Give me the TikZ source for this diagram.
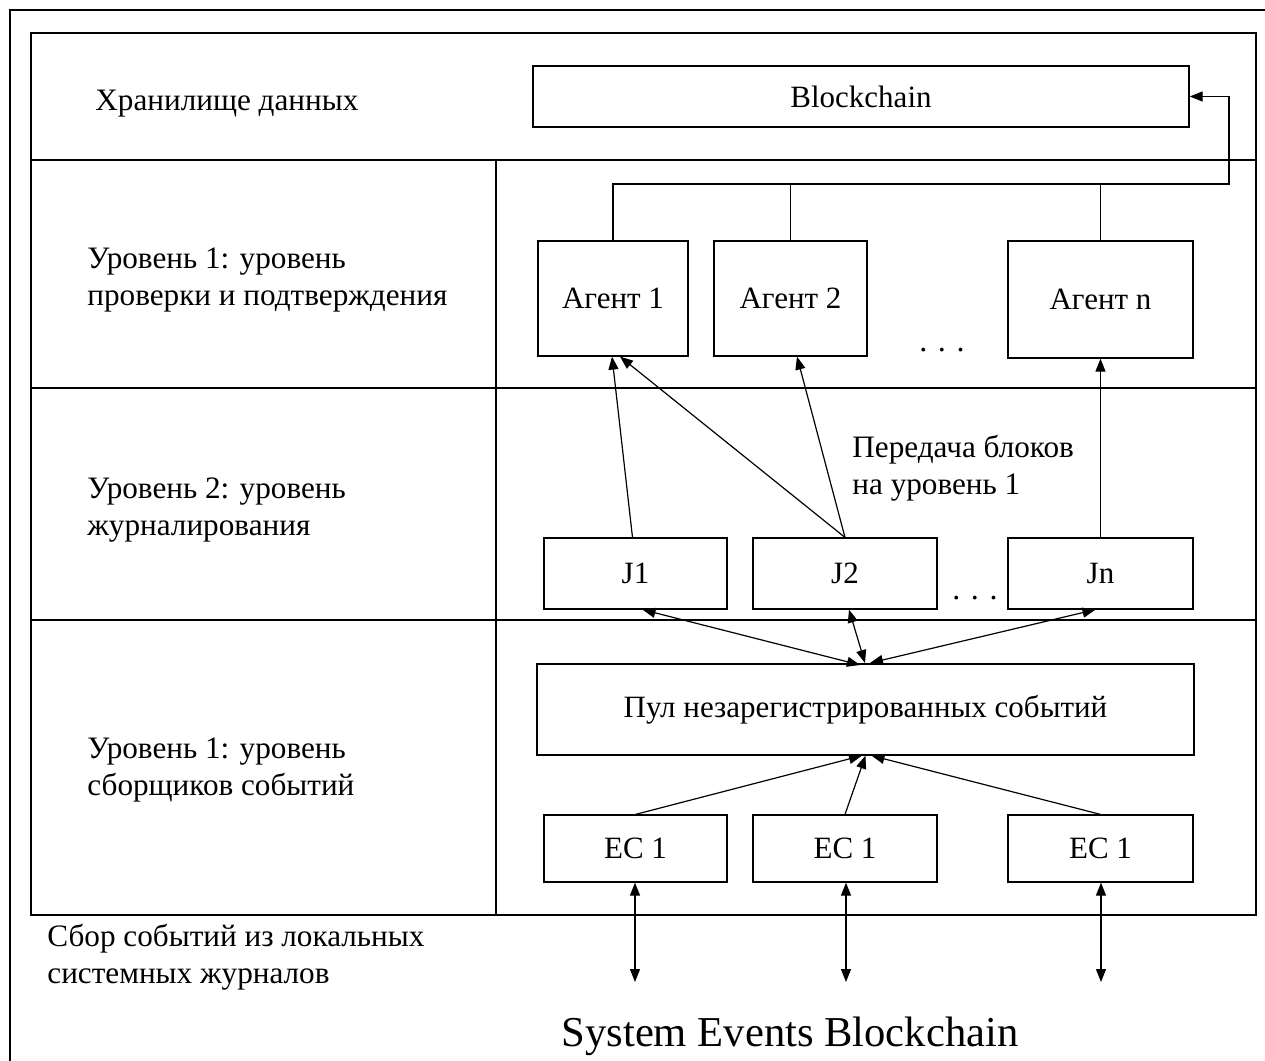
\documentclass[tikz,border=0pt]{standalone}
\usepackage{fontspec}
\setmainfont{Liberation Serif}
\usetikzlibrary{arrows.meta}
\begin{document}
\begin{tikzpicture}[x=0.5pt,y=-0.5pt,
  box/.style={draw,line width=0.6pt,inner sep=0pt,font=\fontsize{15.5}{18}\selectfont},
  lbl/.style={anchor=west,align=left,inner sep=0pt,font=\fontsize{15.6}{18.5}\selectfont},
  frame/.style={line width=0.6pt},
  arr/.style={line width=0.6pt,-{Triangle[length=6.5pt,width=5pt]}},
  biarr/.style={line width=0.6pt,{Triangle[length=6.5pt,width=5pt]}-{Triangle[length=6.5pt,width=5pt]}}]
\useasboundingbox (0,0) rectangle (1265,1061);
% outer frame (cropped)
\draw[line width=1.2pt] (10,1070) -- (10,10) -- (1270,10);
% inner frame and layers
\draw[frame] (31,33) rectangle (1256,915);
\draw[frame] (31,160) -- (1256,160);
\draw[frame] (31,388) -- (1256,388);
\draw[frame] (31,620) -- (1256,620);
\draw[frame] (496,160) -- (496,915);
% labels
\node[lbl] (t0) at (95,104) {Хранилище данных};
\node[lbl] (t1) at (87,280) {Уровень 1: уровень\\проверки и подтверждения};
\node[lbl] (t2) at (87,510) {Уровень 2: уровень\\журналирования};
\node[lbl] (t3) at (87,770) {Уровень 1: уровень\\сборщиков событий};
\node[lbl] (t4) at (47,957) {Сбор событий из локальных\\системных журналов};
\node[lbl] (tp) at (852,468) {Передача блоков\\на уровень 1};
\node[inner sep=0pt,font=\fontsize{21.3}{24}\selectfont] (title) at (790,1036) {System Events Blockchain};
% boxes
\node[box,minimum width=328pt,minimum height=30.5pt] (bc) at (861,96.5) {Blockchain};
\node[box,minimum width=75pt,minimum height=57.5pt] (a1) at (613,298.5) {Агент 1};
\node[box,minimum width=76.5pt,minimum height=57.5pt] (a2) at (790.5,298.5) {Агент 2};
\node[box,minimum width=92.5pt,minimum height=58.5pt] (an) at (1100.5,299.5) {Агент n};
\node[font=\fontsize{16}{18}\selectfont,inner sep=0pt] (d1) at (942,350) {.\,\,.\,\,.};
\node[box,minimum width=91.5pt,minimum height=35.5pt] (j1) at (635.5,573.5) {J1};
\node[box,minimum width=92pt,minimum height=35.5pt] (j2) at (845,573.5) {J2};
\node[box,minimum width=92.5pt,minimum height=35.5pt] (jn) at (1100.5,573.5) {Jn};
\node[font=\fontsize{16}{18}\selectfont,inner sep=0pt] (d2) at (975,598) {.\,\,.\,\,.};
\node[box,minimum width=328.5pt,minimum height=45.5pt] (pool) at (865.5,709.5) {Пул незарегистрированных событий};
\node[box,minimum width=91.5pt,minimum height=33.5pt] (e1) at (635.5,848.5) {EC 1};
\node[box,minimum width=92pt,minimum height=33.5pt] (e2) at (845,848.5) {EC 1};
\node[box,minimum width=92.5pt,minimum height=33.5pt] (e3) at (1100.5,848.5) {EC 1};
% blockchain feedback bus
\coordinate (bus) at (1229,184);
\draw[arr] (a1.north) |- (bus) |- (bc.east);
\draw[line width=0.6pt] (a2.north) -- (a2.north |- bus);
\draw[line width=0.6pt] (an.north) -- (an.north |- bus);
% J -> agents
\draw[arr] ([xshift=-1.5pt]j1.north) -- ([xshift=-0.5pt]a1.south);
\draw[arr] (j2.north) -- ([xshift=3.5pt]a1.south);
\draw[arr] (j2.north) -- ([xshift=3.25pt]a2.south);
\draw[arr] (jn.north) -- (an.south);
% pool <-> J
\coordinate (p1) at (860,665);
\coordinate (p2) at (865,663);
\coordinate (p3) at (870,663);
\draw[biarr] ([xshift=3.5pt]j1.south) -- (p1);
\draw[biarr] ([xshift=2pt]j2.south) -- (p2);
\draw[biarr] ([xshift=-2.5pt]jn.south) -- (p3);
% EC -> pool
\draw[arr] (e1.north) -- ([xshift=-1.75pt]pool.south);
\draw[arr] (e2.north) -- ([xshift=0pt]pool.south);
\draw[arr] (e3.north) -- ([xshift=3pt]pool.south);
% EC <-> local logs
\coordinate (l1) at (635,982);
\coordinate (l2) at (846,982);
\coordinate (l3) at (1101,982);
\draw[biarr] (e1.south -| l1) -- (l1);
\draw[biarr] (e2.south -| l2) -- (l2);
\draw[biarr] (e3.south -| l3) -- (l3);
\end{tikzpicture}
\end{document}
